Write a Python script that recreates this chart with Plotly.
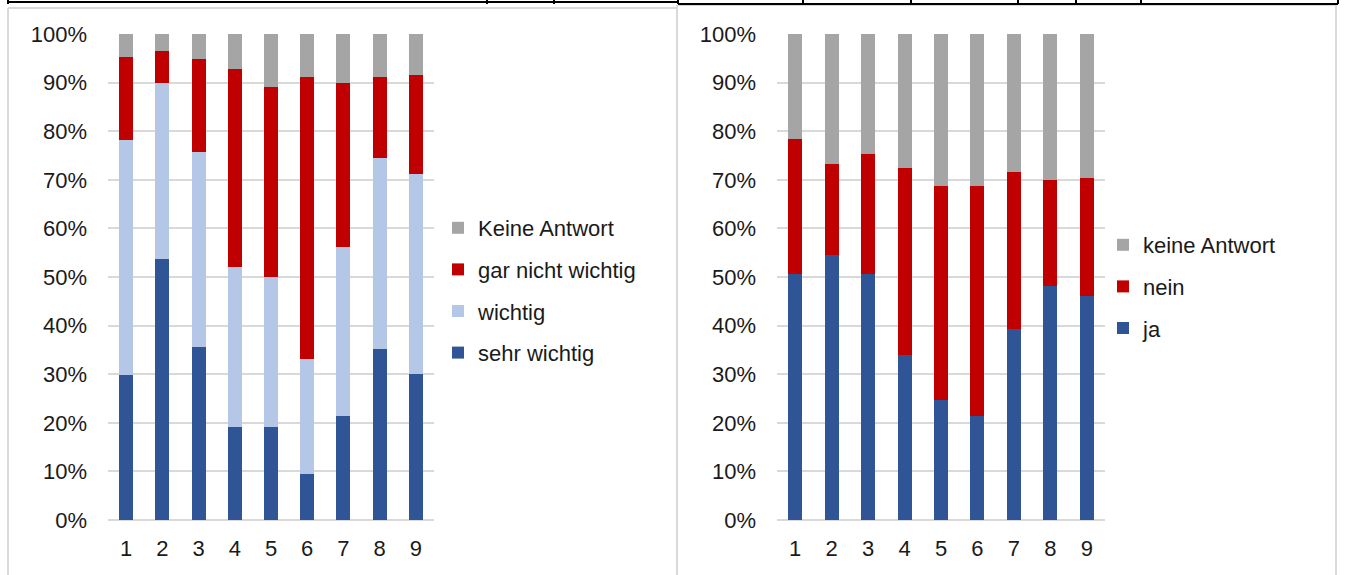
import plotly.graph_objects as go

W, H = 1348, 575

# --- data (percent of respondents) ---
categories = ["1", "2", "3", "4", "5", "6", "7", "8", "9"]

# left chart: importance
sehr_wichtig = [29.8, 53.7, 35.6, 19.2, 19.2, 9.5, 21.3, 35.2, 30.1]
wichtig = [48.4, 36.3, 40.1, 32.9, 30.8, 23.7, 34.9, 39.2, 41.0]
gar_nicht_wichtig = [17.1, 6.6, 19.2, 40.8, 39.0, 58.0, 33.7, 16.8, 20.5]
keine_antwort_l = [4.7, 3.4, 5.1, 7.1, 11.0, 8.8, 10.1, 8.8, 8.4]

# right chart: yes / no
ja = [50.7, 54.5, 50.7, 33.9, 24.6, 21.3, 39.3, 48.2, 46.1]
nein = [27.7, 18.8, 24.7, 38.6, 44.1, 47.4, 32.4, 21.8, 24.3]
keine_antwort_r = [21.6, 26.7, 24.6, 27.5, 31.3, 31.3, 28.3, 30.0, 29.6]

DARK_BLUE = "#2F5597"
LIGHT_BLUE = "#B4C7E7"
RED = "#C00000"
GREY = "#A5A5A5"
GRID = "#D9D9D9"
FONT = "Arial, Liberation Sans, sans-serif"


def px_x(x):
    return x / W


def px_y(y):
    return 1 - y / H


fig = go.Figure()

# stacked bottom -> top; legend shows them top -> bottom via legendrank
left = [("sehr wichtig", sehr_wichtig, DARK_BLUE),
        ("wichtig", wichtig, LIGHT_BLUE),
        ("gar nicht wichtig", gar_nicht_wichtig, RED),
        ("Keine Antwort", keine_antwort_l, GREY)]
for i, (name, vals, col) in enumerate(left):
    fig.add_trace(go.Bar(x=categories, y=vals, name=name, marker_color=col,
                         marker_line_width=0, xaxis="x", yaxis="y",
                         legend="legend", legendgroup="l_" + name,
                         legendrank=100 - i))

right = [("ja", ja, DARK_BLUE),
         ("nein", nein, RED),
         ("keine Antwort", keine_antwort_r, GREY)]
for i, (name, vals, col) in enumerate(right):
    fig.add_trace(go.Bar(x=categories, y=vals, name=name, marker_color=col,
                         marker_line_width=0, xaxis="x2", yaxis="y2",
                         legend="legend2", legendgroup="r_" + name,
                         legendrank=100 - i))

y_dom = [px_y(520), px_y(34)]
yax = dict(range=[0, 100], dtick=10, ticksuffix="%", showgrid=True,
           gridcolor=GRID, gridwidth=2, zeroline=True, zerolinecolor=GRID,
           zerolinewidth=2, showline=False, ticks="", ticklabelstandoff=20,
           tickfont=dict(size=22, color="#1a1a1a", family=FONT),
           domain=y_dom, fixedrange=True, automargin=False)
xax = dict(type="category", showgrid=False, showline=False, ticks="",
           ticklabelstandoff=13, automargin=False,
           tickfont=dict(size=22, color="#1a1a1a", family=FONT))

leg = dict(font=dict(size=22, color="#1a1a1a", family=FONT),
           traceorder="grouped", tracegroupgap=10,
           bgcolor="rgba(0,0,0,0)", borderwidth=0,
           xanchor="left", yanchor="top", itemclick=False)

fig.update_layout(
    width=W, height=H,
    margin=dict(l=0, r=0, t=0, b=0, autoexpand=False),
    paper_bgcolor="white", plot_bgcolor="white",
    barmode="stack", bargap=0.614,
    font=dict(family=FONT, color="#1a1a1a"),
    xaxis=dict(xax, domain=[px_x(108), px_x(434)], anchor="y"),
    yaxis=dict(yax, anchor="x"),
    xaxis2=dict(xax, domain=[px_x(777), px_x(1105)], anchor="y2"),
    yaxis2=dict(yax, anchor="x2"),
    legend=dict(leg, x=px_x(438), y=px_y(207)),
    legend2=dict(leg, x=px_x(1103), y=px_y(224)),
)

# surrounding table / chart frames
shapes = []
gray_lines = [
    (8, 8, 8, H), (8, 8, 676, 8),
    (677, 5, 677, H), (678, 5, 1336, 5),
    (1336, 5, 1336, H),
]
for x0, y0, x1, y1 in gray_lines:
    shapes.append(dict(type="line", xref="paper", yref="paper",
                       x0=px_x(x0), y0=px_y(y0), x1=px_x(x1), y1=px_y(y1),
                       line=dict(color=GRID, width=2)))
black_lines = [(8, 2, 678, 2), (678, 4, 1338, 4)]
for x0, y0, x1, y1 in black_lines:
    shapes.append(dict(type="line", xref="paper", yref="paper",
                       x0=px_x(x0), y0=px_y(y0), x1=px_x(x1), y1=px_y(y1),
                       line=dict(color="black", width=2)))
for xt in [8, 487, 554, 678, 803, 911, 1018, 1076, 1141, 1338]:
    shapes.append(dict(type="line", xref="paper", yref="paper",
                       x0=px_x(xt), y0=px_y(0), x1=px_x(xt), y1=px_y(4),
                       line=dict(color="black", width=2)))
fig.update_layout(shapes=shapes)

fig.write_html(
    "out.html",
    config=dict(displayModeBar=False),
    post_script="document.body.style.margin='0';"
                "document.body.style.overflow='hidden';",
)
